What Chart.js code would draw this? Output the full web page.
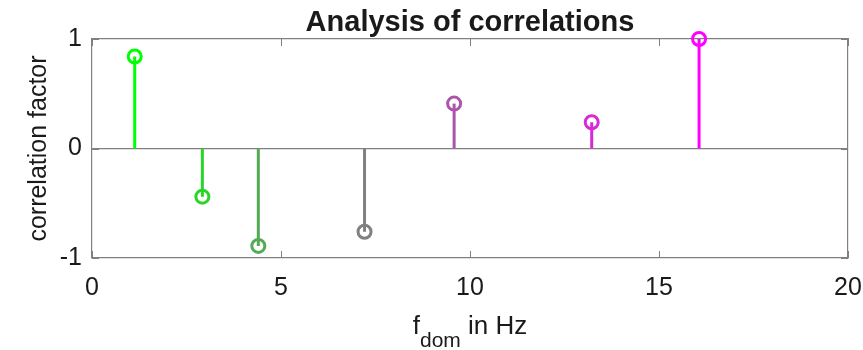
<!DOCTYPE html>
<html>
<head>
<meta charset="utf-8">
<script src="https://cdn.jsdelivr.net/npm/chart.js@4.4.0/dist/chart.umd.min.js"></script>
<style>
body{margin:0;background:#fff;}
</style>
</head>
<body>
<canvas id="corrChart" width="863" height="350"></canvas>
<script>
// stem positions (Hz) and correlation factors
var freqs = [1.13, 2.92, 4.40, 7.21, 9.58, 13.22, 16.06];
var corrs = [0.84, -0.44, -0.89, -0.76, 0.41, 0.24, 1.0];
var stemColors = ['#00ff00', '#2ad52a', '#55aa55', '#808080', '#aa55aa', '#d52ad5', '#ff00ff'];
var xTicks = [0, 5, 10, 15, 20];
var yTicks = [-1, 0, 1];

var axisGray = '#808080';
var textCol = '#1a1a1a';
var fam = '"Liberation Sans", Arial, sans-serif';

var datasets = freqs.map(function(f, i){
    return {
        data: [{x: f, y: 0}, {x: f, y: corrs[i]}],
        showLine: true,
        borderColor: stemColors[i],
        borderWidth: 3,
        pointRadius: [0, 6.5],
        pointHoverRadius: [0, 6.5],
        pointBorderColor: stemColors[i],
        pointBackgroundColor: 'rgba(0,0,0,0)',
        pointBorderWidth: 3,
        clip: false
    };
});

// no label overhang padding, keep the box where the figure has it
function noPad(s){ s.paddingLeft = 0; s.paddingRight = 0; s.paddingTop = 0; s.paddingBottom = 0; }

// little inward tick marks on all four sides, like the matlab box
var inTicks = {
    id: 'inTicks',
    afterDraw: function(chart){
        var ctx = chart.ctx, a = chart.chartArea, xs = chart.scales.x, ys = chart.scales.y, len = 7;
        ctx.save();
        ctx.strokeStyle = axisGray;
        ctx.lineWidth = 1;
        ctx.beginPath();
        xs.ticks.forEach(function(t){
            var px = Math.round(xs.getPixelForValue(t.value)) + 0.5;
            ctx.moveTo(px, a.bottom); ctx.lineTo(px, a.bottom - len);
            ctx.moveTo(px, a.top); ctx.lineTo(px, a.top + len);
        });
        ys.ticks.forEach(function(t){
            var py = Math.round(ys.getPixelForValue(t.value)) + 0.5;
            ctx.moveTo(a.left, py); ctx.lineTo(a.left + len, py);
            ctx.moveTo(a.right, py); ctx.lineTo(a.right - len, py);
        });
        ctx.stroke();
        ctx.restore();
    }
};

// title and axis labels (x label needs a subscript)
var labels = {
    id: 'labels',
    afterDraw: function(chart){
        var ctx = chart.ctx, a = chart.chartArea;
        var cx = (a.left + a.right) / 2, cy = (a.top + a.bottom) / 2;
        ctx.save();
        ctx.fillStyle = textCol;

        ctx.font = 'bold 29px ' + fam;
        ctx.textAlign = 'center';
        ctx.textBaseline = 'alphabetic';
        ctx.fillText('Analysis of correlations', cx, 31);

        ctx.save();
        ctx.font = '25px ' + fam;
        ctx.translate(39, cy);
        ctx.rotate(-Math.PI / 2);
        ctx.textBaseline = 'middle';
        ctx.fillText('correlation factor', 0, 0);
        ctx.restore();

        var mainFont = '26px ' + fam, subFont = '21px ' + fam;
        ctx.textAlign = 'left';
        ctx.font = mainFont;
        var wf = ctx.measureText('f').width;
        var wr = ctx.measureText(' in Hz').width;
        ctx.font = subFont;
        var ws = ctx.measureText('dom').width;
        var x0 = cx - (wf + ws + wr) / 2;
        var base = 334;
        ctx.font = mainFont;
        ctx.fillText('f', x0, base);
        ctx.font = subFont;
        ctx.fillText('dom', x0 + wf, base + 13);
        ctx.font = mainFont;
        ctx.fillText(' in Hz', x0 + wf + ws, base);
        ctx.restore();
    }
};

var corrChart = new Chart(document.getElementById('corrChart').getContext('2d'), {
    type: 'scatter',
    data: {datasets: datasets},
    options: {
        responsive: false,
        animation: false,
        layout: {padding: 0},
        plugins: {legend: {display: false}, tooltip: {enabled: false}, title: {display: false}},
        scales: {
            x: {
                type: 'linear', position: 'bottom', min: 0, max: 20,
                afterBuildTicks: function(s){ s.ticks = xTicks.map(function(v){ return {value: v}; }); },
                afterFit: function(s){ s.height = 92; noPad(s); },
                ticks: {color: textCol, font: {family: fam, size: 25}, padding: 15, maxRotation: 0},
                grid: {display: false, drawTicks: false},
                border: {display: true, color: axisGray, width: 1.2}
            },
            y: {
                type: 'linear', position: 'left', min: -1, max: 1,
                afterBuildTicks: function(s){ s.ticks = yTicks.map(function(v){ return {value: v}; }); },
                afterFit: function(s){ s.width = 92; noPad(s); },
                ticks: {color: textCol, font: {family: fam, size: 25}, padding: 10},
                grid: {
                    drawTicks: false,
                    lineWidth: 1.2,
                    color: function(c){ return c.tick && c.tick.value === 0 ? axisGray : 'rgba(0,0,0,0)'; }
                },
                border: {display: true, color: axisGray, width: 1.2}
            },
            x2: {
                type: 'linear', position: 'top', min: 0, max: 20,
                afterFit: function(s){ s.height = 39; noPad(s); },
                ticks: {display: false},
                grid: {display: false, drawTicks: false},
                border: {display: true, color: axisGray, width: 1.2}
            },
            y2: {
                type: 'linear', position: 'right', min: -1, max: 1,
                afterFit: function(s){ s.width = 15; noPad(s); },
                ticks: {display: false},
                grid: {display: false, drawTicks: false},
                border: {display: true, color: axisGray, width: 1.2}
            }
        }
    },
    plugins: [inTicks, labels]
});
</script>
</body>
</html>
